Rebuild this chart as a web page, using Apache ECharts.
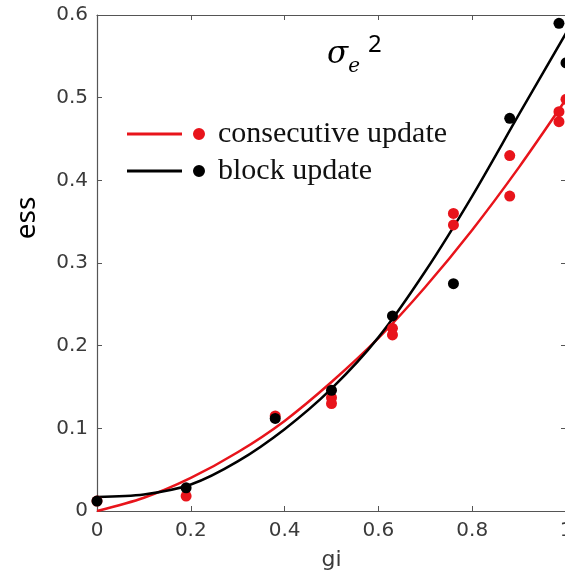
<!DOCTYPE html>
<html>
<head>
<meta charset="utf-8">
<script src="https://cdn.jsdelivr.net/npm/echarts@6/dist/echarts.min.js"></script>
<style>
  html, body { margin: 0; padding: 0; background: #fff; }
  #chart { width: 565px; height: 576px; }
</style>
</head>
<body>
<div id="chart"></div>
<script>
  // measured points (gi, ess)
  var consecutivePts = [
    [0, 0.012], [0.19, 0.018], [0.38, 0.115], [0.5, 0.137], [0.5, 0.13],
    [0.63, 0.221], [0.63, 0.213], [0.76, 0.36], [0.76, 0.346],
    [0.88, 0.43], [0.88, 0.381], [0.985, 0.483], [0.985, 0.471], [1, 0.498]
  ]
  var blockPts = [
    [0, 0.012], [0.19, 0.028], [0.38, 0.112], [0.5, 0.146], [0.63, 0.236],
    [0.76, 0.275], [0.88, 0.475], [0.985, 0.59], [1, 0.542]
  ]
  // fitted curves
  var consecutiveFit = [
    [0, 0], [0.1, 0.016], [0.2, 0.04], [0.3, 0.071], [0.4, 0.109], [0.5, 0.156],
    [0.6, 0.209], [0.7, 0.271], [0.8, 0.34], [0.9, 0.416], [1, 0.498]
  ]
  var blockFit = [
    [0, 0.017], [0.1, 0.02], [0.2, 0.032], [0.3, 0.06], [0.4, 0.099], [0.5, 0.148],
    [0.6, 0.21], [0.7, 0.29], [0.8, 0.381], [0.9, 0.48], [1, 0.578]
  ]
  var xTicks = [0, 0.2, 0.4, 0.6, 0.8, 1]
  var yTicks = [0, 0.1, 0.2, 0.3, 0.4, 0.5, 0.6]

  var red = '#e8141b'
  var black = '#000'
  var axisColor = '#555'
  var labelColor = '#3a3a3a'

  var chart = echarts.init(document.getElementById('chart'))

  var baseAxis = {
    axisLine: { show: true, onZero: false, lineStyle: { color: axisColor, width: 1.2 } },
    axisTick: { show: true, inside: true, length: 5, lineStyle: { color: axisColor } },
    splitLine: { show: false }
  }

  var option = {
    animation: false,
    grid: { left: 97, right: -1, top: 15, bottom: 65, containLabel: false, outerBoundsMode: 'none' },
    title: {
      text: '{s|σ}{e|e}{p|2}',
      left: 322,
      top: 28,
      textStyle: {
        fontWeight: 'normal',
        rich: {
          s: { fontFamily: 'DejaVu Serif', fontStyle: 'italic', fontWeight: 'normal', fontSize: 31, color: '#000', lineHeight: 44, verticalAlign: 'middle' },
          e: { fontFamily: 'DejaVu Serif', fontStyle: 'italic', fontWeight: 'normal', fontSize: 20, color: '#000', lineHeight: 44, verticalAlign: 'bottom' },
          p: { fontFamily: 'Noto Sans', fontWeight: 'normal', fontSize: 24, color: '#000', lineHeight: 44, verticalAlign: 'top', padding: [0, 0, 0, 8] }
        }
      }
    },
    legend: {
      orient: 'vertical',
      left: 122,
      top: 114,
      itemGap: 7,
      itemWidth: 78,
      itemHeight: 12,
      icon: 'path://M0,4.5 L55,4.5 L55,7.5 L0,7.5 Z M66,6 a6,6 0 1,0 12,0 a6,6 0 1,0 -12,0 Z',
      textStyle: {
        fontFamily: 'Liberation Serif',
        fontSize: 30,
        color: '#111',
        lineHeight: 30,
        padding: [0, 0, 0, 8]
      },
      data: [
        { name: 'consecutive update', itemStyle: { color: red } },
        { name: 'block update', itemStyle: { color: black } }
      ]
    },
    graphic: [{
      type: 'text',
      x: 27,
      y: 218,
      rotation: Math.PI / 2,
      style: {
        text: 'ess',
        fontFamily: 'Noto Sans',
        fontSize: 28,
        fill: '#000',
        align: 'center',
        verticalAlign: 'middle'
      }
    }],
    xAxis: [
      Object.assign({}, baseAxis, {
        type: 'value', min: 0, max: 1, interval: 0.2, position: 'bottom',
        name: 'gi', nameLocation: 'middle', nameGap: 38,
        nameTextStyle: { fontFamily: 'DejaVu Sans', fontSize: 22, color: labelColor },
        axisLabel: {
          margin: 10, fontFamily: 'DejaVu Sans', fontSize: 20, color: labelColor,
          formatter: function (v) { return xTicks.indexOf(+v.toFixed(1)) >= 0 ? String(+v.toFixed(1)) : '' }
        }
      }),
      Object.assign({}, baseAxis, {
        type: 'value', min: 0, max: 1, interval: 0.2, position: 'top',
        axisLabel: { show: false }
      })
    ],
    yAxis: [
      Object.assign({}, baseAxis, {
        type: 'value', min: 0, max: 0.6, interval: 0.1, position: 'left',
        axisLabel: {
          margin: 9, fontFamily: 'DejaVu Sans', fontSize: 20, color: labelColor,
          formatter: function (v) { return yTicks.indexOf(+v.toFixed(1)) >= 0 ? String(+v.toFixed(1)) : '' }
        }
      }),
      Object.assign({}, baseAxis, {
        type: 'value', min: 0, max: 0.6, interval: 0.1, position: 'right',
        axisLabel: { show: false }
      })
    ],
    series: [
      {
        name: 'consecutive update', type: 'line', data: consecutiveFit, smooth: 0.3,
        showSymbol: false, lineStyle: { color: red, width: 2.5 }, itemStyle: { color: red }, z: 3
      },
      {
        name: 'block update', type: 'line', data: blockFit, smooth: 0.3,
        showSymbol: false, lineStyle: { color: black, width: 2.5 }, itemStyle: { color: black }, z: 3
      },
      {
        name: 'consecutive pts', type: 'scatter', data: consecutivePts, symbolSize: 11,
        itemStyle: { color: red, opacity: 1 }, z: 4
      },
      {
        name: 'block pts', type: 'scatter', data: blockPts, symbolSize: 11,
        itemStyle: { color: black, opacity: 1 }, z: 5
      }
    ]
  }

  chart.setOption(option)
</script>
</body>
</html>
